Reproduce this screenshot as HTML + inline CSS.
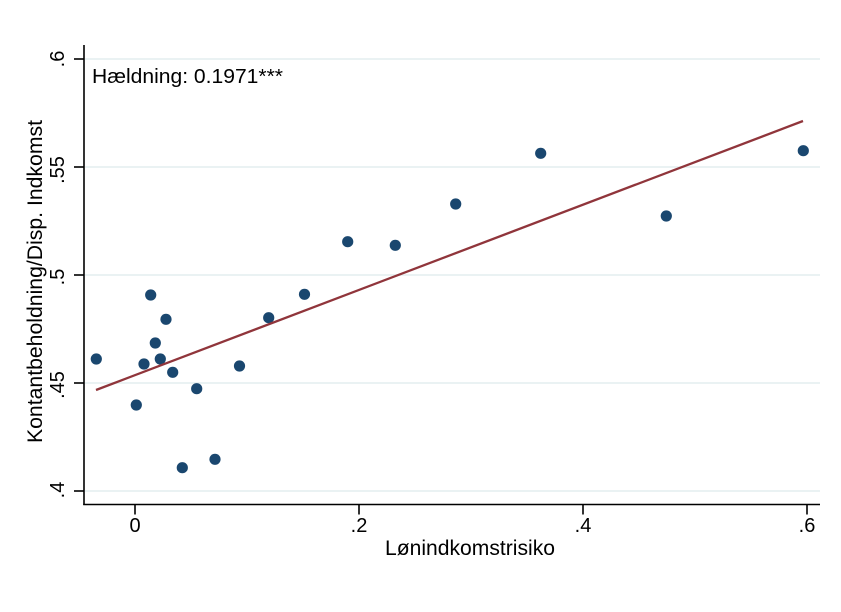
<!DOCTYPE html>
<html>
<head>
<meta charset="utf-8">
<style>
  html, body { margin: 0; padding: 0; background: #ffffff; }
  svg { display: block; }
  text { font-family: "Liberation Sans", Arial, sans-serif; fill: #000; }
</style>
</head>
<body>
<svg width="841" height="612" viewBox="0 0 841 612" xmlns="http://www.w3.org/2000/svg">
  <rect x="0" y="0" width="841" height="612" fill="#ffffff"/>

  <!-- gridlines -->
  <g stroke="#eaf2f3" stroke-width="2">
    <line x1="85" y1="59" x2="820" y2="59"/>
    <line x1="85" y1="167" x2="820" y2="167"/>
    <line x1="85" y1="275" x2="820" y2="275"/>
    <line x1="85" y1="383" x2="820" y2="383"/>
    <line x1="85" y1="491" x2="820" y2="491"/>
  </g>

  <!-- axes -->
  <g stroke="#000" stroke-width="1.6">
    <line x1="84" y1="45" x2="84" y2="505"/>
    <line x1="83.2" y1="504.5" x2="820" y2="504.5"/>
    <!-- y ticks -->
    <line x1="74" y1="59" x2="84" y2="59"/>
    <line x1="74" y1="167" x2="84" y2="167"/>
    <line x1="74" y1="275" x2="84" y2="275"/>
    <line x1="74" y1="383" x2="84" y2="383"/>
    <line x1="74" y1="491" x2="84" y2="491"/>
    <!-- x ticks -->
    <line x1="135" y1="504.5" x2="135" y2="514.5"/>
    <line x1="359" y1="504.5" x2="359" y2="514.5"/>
    <line x1="583" y1="504.5" x2="583" y2="514.5"/>
    <line x1="807" y1="504.5" x2="807" y2="514.5"/>
  </g>

  <!-- y tick labels (rotated) -->
  <g font-size="20" text-anchor="middle">
    <text transform="translate(64,59) rotate(-90)">.6</text>
    <text transform="translate(64,170) rotate(-90)">.55</text>
    <text transform="translate(64,277) rotate(-90)">.5</text>
    <text transform="translate(64,385) rotate(-90)">.45</text>
    <text transform="translate(64,490) rotate(-90)">.4</text>
  </g>

  <!-- x tick labels -->
  <g font-size="20" text-anchor="middle">
    <text x="135" y="532">0</text>
    <text x="359" y="532">.2</text>
    <text x="583" y="532">.4</text>
    <text x="807" y="532">.6</text>
  </g>

  <!-- axis titles -->
  <text x="470" y="555" font-size="21" text-anchor="middle" textLength="170" lengthAdjust="spacingAndGlyphs">Lønindkomstrisiko</text>
  <text transform="translate(42,281.5) rotate(-90)" font-size="21" text-anchor="middle" textLength="323" lengthAdjust="spacingAndGlyphs">Kontantbeholdning/Disp. Indkomst</text>

  <!-- annotation -->
  <text x="92" y="83" font-size="20" textLength="191" lengthAdjust="spacingAndGlyphs">Hældning: 0.1971***</text>

  <!-- scatter points -->
  <g fill="#1a476f">
    <circle cx="96.3" cy="359" r="5.6"/>
    <circle cx="136.3" cy="405" r="5.6"/>
    <circle cx="144" cy="364" r="5.6"/>
    <circle cx="150.7" cy="295" r="5.6"/>
    <circle cx="155.3" cy="343" r="5.6"/>
    <circle cx="160.3" cy="359" r="5.6"/>
    <circle cx="166" cy="319.3" r="5.6"/>
    <circle cx="172.7" cy="372.3" r="5.6"/>
    <circle cx="182.3" cy="467.7" r="5.6"/>
    <circle cx="196.7" cy="388.7" r="5.6"/>
    <circle cx="215" cy="459.3" r="5.6"/>
    <circle cx="239.5" cy="366" r="5.6"/>
    <circle cx="268.7" cy="317.7" r="5.6"/>
    <circle cx="304.5" cy="294.3" r="5.6"/>
    <circle cx="347.7" cy="241.7" r="5.6"/>
    <circle cx="395.3" cy="245.3" r="5.6"/>
    <circle cx="455.7" cy="204" r="5.6"/>
    <circle cx="540.7" cy="153.3" r="5.6"/>
    <circle cx="666.3" cy="216" r="5.6"/>
    <circle cx="803.3" cy="150.7" r="5.6"/>
  </g>

  <!-- fitted line -->
  <line x1="96" y1="390" x2="803" y2="121" stroke="#90353b" stroke-width="2.3"/>
</svg>
</body>
</html>
